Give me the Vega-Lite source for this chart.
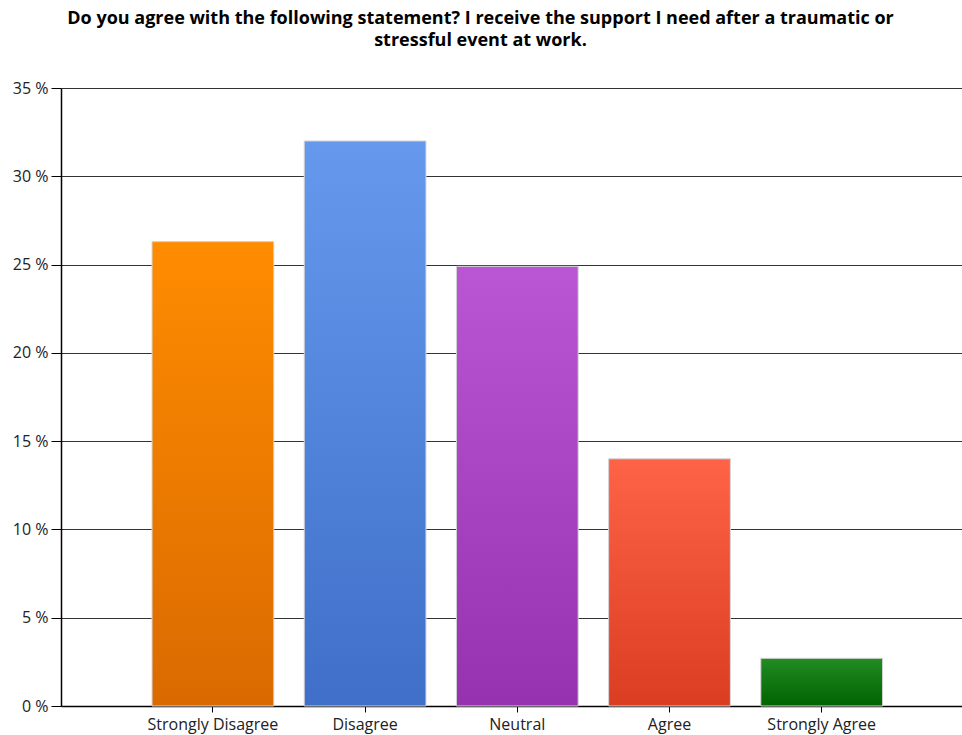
{
  "$schema": "https://vega.github.io/schema/vega-lite/v6.json",
  "width": 901,
  "height": 618,
  "autosize": {"type": "none"},
  "padding": {"left": 61, "top": 88, "right": 0, "bottom": 29},
  "background": "white",
  "title": {
    "text": ["Do you agree with the following statement? I receive the support I need after a traumatic or", "stressful event at work."],
    "font": "Open Sans",
    "fontSize": 18,
    "fontWeight": "bold",
    "color": "#000000",
    "anchor": "middle",
    "dx": -31,
    "offset": 30,
    "lineHeight": 22
  },
  "config": {
    "view": {"stroke": null},
    "axis": {"labelFont": "Open Sans", "labelFontSize": 16, "labelColor": "#222222"}
  },
  "data": {
    "values": [
      {"response": "Strongly Disagree", "percent": 26.3},
      {"response": "Disagree", "percent": 32.0},
      {"response": "Neutral", "percent": 24.9},
      {"response": "Agree", "percent": 14.0},
      {"response": "Strongly Agree", "percent": 2.7}
    ]
  },
  "mark": {"type": "bar", "stroke": "#d4d4d4", "strokeWidth": 1},
  "encoding": {
    "x": {
      "field": "response",
      "type": "nominal",
      "sort": null,
      "scale": {"paddingInner": 0.2, "paddingOuter": 0.56, "align": 0.534},
      "axis": {
        "title": null,
        "labelAngle": 0,
        "domainColor": "#000000",
        "domainWidth": 1.5,
        "tickColor": "#000000",
        "tickSize": 6,
        "labelPadding": 4,
        "grid": false
      }
    },
    "y": {
      "field": "percent",
      "type": "quantitative",
      "scale": {"domain": [0, 35]},
      "axis": {
        "title": null,
        "values": [0, 5, 10, 15, 20, 25, 30, 35],
        "labelExpr": "datum.value + ' %'",
        "grid": true,
        "gridColor": "#333333",
        "gridWidth": 1,
        "gridOpacity": 1,
        "domainColor": "#000000",
        "domainWidth": 1.5,
        "tickColor": "#000000",
        "tickSize": 10,
        "labelPadding": 3
      }
    },
    "color": {
      "condition": [
        {"test": "datum.response === 'Strongly Disagree'", "value": {"gradient": "linear", "x1": 0, "y1": 0, "x2": 0, "y2": 1, "stops": [{"offset": 0, "color": "#FF8C00"}, {"offset": 1, "color": "#DA6A00"}]}},
        {"test": "datum.response === 'Disagree'", "value": {"gradient": "linear", "x1": 0, "y1": 0, "x2": 0, "y2": 1, "stops": [{"offset": 0, "color": "#6699EE"}, {"offset": 1, "color": "#3F6FC8"}]}},
        {"test": "datum.response === 'Neutral'", "value": {"gradient": "linear", "x1": 0, "y1": 0, "x2": 0, "y2": 1, "stops": [{"offset": 0, "color": "#BA55D3"}, {"offset": 1, "color": "#9632B0"}]}},
        {"test": "datum.response === 'Agree'", "value": {"gradient": "linear", "x1": 0, "y1": 0, "x2": 0, "y2": 1, "stops": [{"offset": 0, "color": "#FF6347"}, {"offset": 1, "color": "#DA3D22"}]}}
      ],
      "value": {"gradient": "linear", "x1": 0, "y1": 0, "x2": 0, "y2": 1, "stops": [{"offset": 0, "color": "#228B22"}, {"offset": 1, "color": "#006400"}]}
    }
  }
}
